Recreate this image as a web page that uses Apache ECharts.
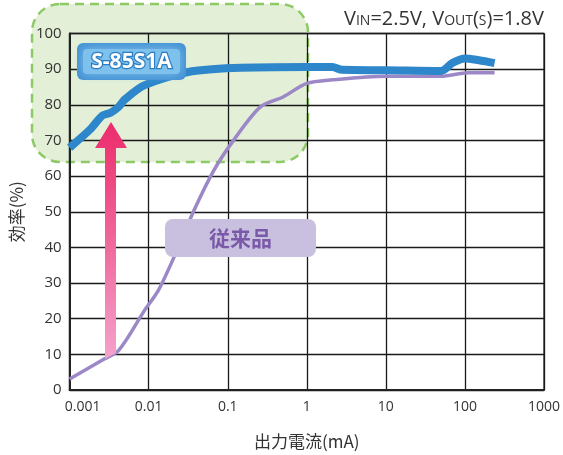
<!DOCTYPE html>
<html><head><meta charset="utf-8">
<script src="https://cdn.jsdelivr.net/npm/echarts@6/dist/echarts.min.js"></script>
<style>html,body{margin:0;padding:0;background:#fff}#c{width:563px;height:455px}</style>
</head><body><div id="c"></div>
<script>
const xTicks = ['0.001','0.01','0.1','1','10','100','1000'];
const yTicks = [0,10,20,30,40,50,60,70,80,90,100];
const s85X = [0.001,0.0018,0.0026,0.0033,0.0042,0.005,0.0089,0.0316,0.119,1,2.1,2.8,10,50,70,100,150,237];
const s85Y = [68,73,77,77.8,79.5,81.5,85.5,89.2,90.3,90.6,90.6,89.8,89.7,89.5,91.8,93,92.5,91.7];
const convX = [0.001,0.0026,0.0042,0.0089,0.0133,0.0237,0.0376,0.067,0.119,0.259,0.5,1,2.1,10,50,110,237];
const convY = [3.1,8.4,11.2,22.4,28,40,50.5,61.7,70.1,79.4,82.2,86,87,88,88,89,89];
const FONT = '"Open Sans","Noto Sans CJK JP",sans-serif';
const chart = echarts.init(document.getElementById('c'));
const zip = (a,b)=>a.map((v,i)=>[v,b[i]]);
chart.setOption({
  animation:false,
  grid:{left:67,right:16,top:33.5,bottom:65,show:true,borderColor:'#444',borderWidth:1.5,backgroundColor:'transparent'},
  title:{text:'V{s|IN}=2.5V, V{s|OUT}({s|S})=1.8V',left:339,top:4,
    textStyle:{fontFamily:FONT,fontSize:20,fontWeight:'normal',color:'#333',
      rich:{s:{fontFamily:FONT,fontSize:14,color:'#333',verticalAlign:'bottom',padding:[0,0,1,0]}}}},
  xAxis:{type:'log',logBase:10,min:0.001,max:1000,
    name:'出力電流(mA)',nameLocation:'middle',nameGap:43,
    nameTextStyle:{fontFamily:'"Noto Sans CJK JP"',fontSize:17,color:'#333'},
    axisLine:{lineStyle:{color:'#222',width:2}},axisTick:{show:false},
    splitLine:{show:true,lineStyle:{color:'#1a1a1a',width:1.3}},
    axisLabel:{fontFamily:FONT,fontSize:14,color:'#333',margin:10,
      formatter:function(v){const i=Math.round(Math.log10(v))+3;const t=xTicks[i];return i===0?'{a|'+t+'}':t;},
      rich:{a:{fontFamily:FONT,fontSize:14,color:'#333',padding:[0,0,0,26]}}}},
  yAxis:{type:'value',min:0,max:100,interval:10,
    name:'効率(%)',nameLocation:'middle',nameGap:41,nameRotate:90,
    nameTextStyle:{fontFamily:'"Noto Sans CJK JP"',fontSize:17,color:'#333'},
    axisLine:{show:true,lineStyle:{color:'#222',width:2}},axisTick:{show:false},
    splitLine:{show:true,lineStyle:{color:'#1a1a1a',width:1.3}},
    axisLabel:{fontFamily:FONT,fontSize:15,color:'#333',margin:8,formatter:v=>String(yTicks[v/10])}},
  series:[
    {type:'line',data:zip(convX,convY),smooth:0.3,symbol:'none',z:3,lineStyle:{color:'#9C88C7',width:3.5}},
    {type:'line',data:zip(s85X,s85Y),smooth:0.3,symbol:'none',z:4,lineStyle:{color:'#2E87CA',width:8}}
  ],
  graphic:[
    {type:'rect',z:-10,zlevel:0,shape:{x:32,y:4,width:276,height:158,r:28},
      style:{fill:'rgba(200,225,175,0.5)',stroke:'#8DC965',lineWidth:2.5,lineDash:[9,6]}},
    {type:'rect',z:100,shape:{x:77,y:43,width:109,height:37,r:6},
      style:{fill:'#4693D4'}},
    {type:'rect',z:100,shape:{x:83,y:49,width:97,height:25,r:4},
      style:{fill:'#7EC1EC',shadowBlur:10,shadowColor:'#7EC1EC'}},
    {type:'text',z:101,style:{x:131.5,y:62,text:'S-85S1A',align:'center',verticalAlign:'middle',
      font:'bold 21px "Open Sans",sans-serif',fill:'#fff',stroke:'#2D7FC4',lineWidth:2.5}},
    {type:'rect',z:100,shape:{x:165,y:219,width:151,height:38,r:8},style:{fill:'#C9C0E0'}},
    {type:'text',z:101,style:{x:240.5,y:238,text:'従来品',align:'center',verticalAlign:'middle',
      font:'bold 21px "Noto Sans CJK JP",sans-serif',fill:'#7A5AA8'}},
    {type:'polygon',z:100,shape:{points:[[95,148],[111,122],[127,148],[116,148],[116,353],[105,359],[105,148]]},
      style:{fill:{type:'linear',x:0,y:0,x2:0,y2:1,colorStops:[{offset:0,color:'#EC2B6B'},{offset:1,color:'#F4A3CB'}]}}}
  ]
});
</script></body></html>
